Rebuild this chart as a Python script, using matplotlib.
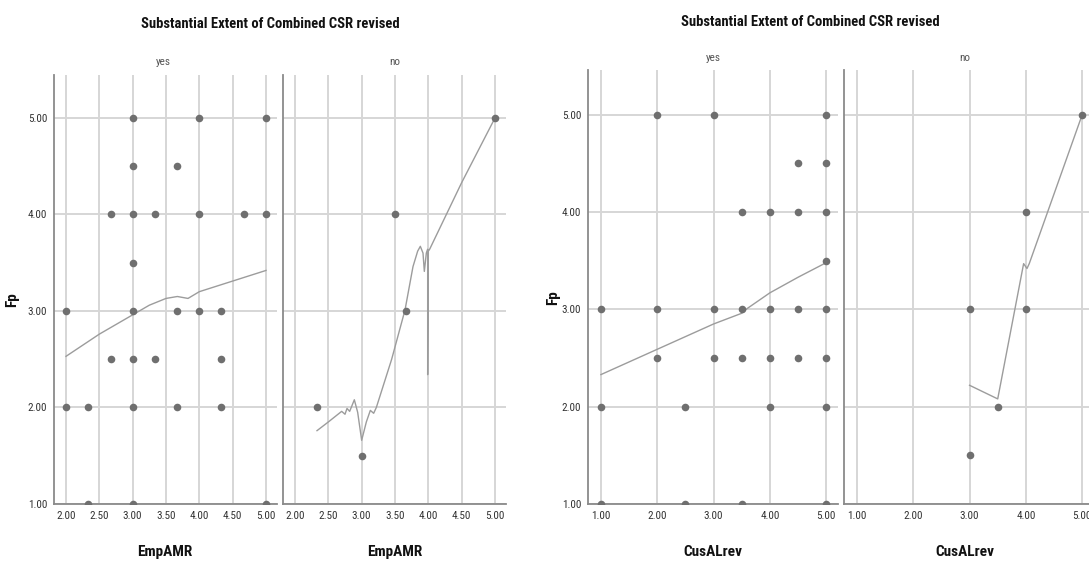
import matplotlib.pyplot as plt
import matplotlib.font_manager as fm

# a narrow sans if one is installed, plain Liberation Sans otherwise
names = {f.name for f in fm.fontManager.ttflist}
narrow = [f for f in ['Liberation Sans Narrow', 'Arial Narrow', 'Roboto Condensed',
                      'PT Sans Narrow', 'Archivo Narrow', 'Open Sans Condensed']
          if f in names]
if narrow:
    plt.rcParams['font.family'] = [narrow[0], 'Liberation Sans', 'DejaVu Sans']
    fs_title, fs_lab, fs_tick, fs_strip = 10.5, 11, 8, 8
else:
    plt.rcParams['font.family'] = ['Liberation Sans', 'DejaVu Sans']
    fs_title, fs_lab, fs_tick, fs_strip = 9.3, 9.5, 7, 7.5

W, H = 1089, 569

##########
# Datos  #
##########
title = 'Substantial Extent of Combined CSR revised'
panels = ['yes', 'no']

# EmpAMR vs Fp
emp_yes_x = [3.00, 4.00, 5.00, 3.00, 3.67, 2.67, 3.00, 3.33, 4.00, 4.67, 5.00, 3.00,
             2.00, 3.00, 3.67, 4.00, 4.33, 2.67, 3.00, 3.33, 4.33,
             2.00, 2.33, 3.00, 3.67, 4.33, 2.33, 3.00, 5.00]
emp_yes_y = [5.00, 5.00, 5.00, 4.50, 4.50, 4.00, 4.00, 4.00, 4.00, 4.00, 4.00, 3.50,
             3.00, 3.00, 3.00, 3.00, 3.00, 2.50, 2.50, 2.50, 2.50,
             2.00, 2.00, 2.00, 2.00, 2.00, 1.00, 1.00, 1.00]
emp_yes_fit_x = [2.00, 2.50, 3.00, 3.25, 3.50, 3.67, 3.83, 4.00, 4.50, 5.00]
emp_yes_fit_y = [2.53, 2.76, 2.96, 3.06, 3.13, 3.15, 3.13, 3.20, 3.31, 3.42]

emp_no_x = [5.00, 3.50, 3.67, 2.33, 3.00]
emp_no_y = [5.00, 4.00, 3.00, 2.00, 1.50]
emp_no_fit_x = [2.33, 2.50, 2.70, 2.75, 2.78, 2.82, 2.89, 2.94, 3.00, 3.07, 3.13,
                3.18, 3.22, 3.45, 3.65, 3.77, 3.84, 3.88, 3.92, 3.94, 3.97,
                3.99, 3.99, 4.00, 4.02, 4.50, 5.00]
emp_no_fit_y = [1.76, 1.85, 1.96, 1.93, 1.99, 1.96, 2.08, 1.95, 1.66, 1.85, 1.97,
                1.94, 2.00, 2.50, 3.01, 3.46, 3.62, 3.67, 3.60, 3.41, 3.60,
                3.64, 2.34, 3.62, 3.64, 4.33, 5.00]

# CusALrev vs Fp
cus_yes_x = [2.0, 3.0, 5.0, 4.5, 5.0, 3.5, 4.0, 4.5, 5.0, 5.0,
             1.0, 2.0, 3.0, 3.5, 4.0, 4.5, 5.0, 2.0, 3.0, 3.5, 4.0, 4.5, 5.0,
             1.0, 2.5, 4.0, 5.0, 1.0, 2.5, 3.5, 5.0]
cus_yes_y = [5.0, 5.0, 5.0, 4.5, 4.5, 4.0, 4.0, 4.0, 4.0, 3.5,
             3.0, 3.0, 3.0, 3.0, 3.0, 3.0, 3.0, 2.5, 2.5, 2.5, 2.5, 2.5, 2.5,
             2.0, 2.0, 2.0, 2.0, 1.0, 1.0, 1.0, 1.0]
cus_yes_fit_x = [1.0, 2.0, 3.0, 3.5, 3.6, 4.0, 4.5, 5.0]
cus_yes_fit_y = [2.33, 2.59, 2.85, 2.96, 3.01, 3.17, 3.33, 3.48]

cus_no_x = [5.0, 4.0, 3.0, 4.0, 3.5, 3.0]
cus_no_y = [5.0, 4.0, 3.0, 3.0, 2.0, 1.5]
cus_no_fit_x = [3.0, 3.5, 3.96, 4.02, 4.06, 5.0]
cus_no_fit_y = [2.22, 2.08, 3.47, 3.42, 3.47, 5.0]

yticks = [1.0, 2.0, 3.0, 4.0, 5.0]
emp_xticks = [2.0, 2.5, 3.0, 3.5, 4.0, 4.5, 5.0]
cus_xticks = [1.0, 2.0, 3.0, 4.0, 5.0]

##########
# Estilo #
##########
grid_c = '#d6d6d6'
spine_c = '#8a8a8a'
dot_c = '#6f6f6f'
fit_c = '#9c9c9c'
txt_c = '#333333'

fig = plt.figure(figsize=(W / 100, H / 100), dpi=100)


def panel(x0, x1, ytop, ybot, xlim, ylim, xticks, px, py, fx, fy, show_y):
    ax = fig.add_axes([x0 / W, 1 - ybot / H, (x1 - x0) / W, (ybot - ytop) / H])
    ax.set_xlim(xlim)
    ax.set_ylim(ylim)
    ax.set_xticks(xticks)
    ax.set_yticks(yticks)
    ax.set_xticklabels(['%.2f' % t for t in xticks])
    if show_y:
        ax.set_yticklabels(['%.2f' % t for t in yticks])
    else:
        ax.set_yticklabels([])
    ax.tick_params(length=0, labelsize=fs_tick, colors=txt_c, pad=5)
    ax.grid(True, color=grid_c, lw=1.4)
    ax.set_axisbelow(True)
    for s in ['top', 'right']:
        ax.spines[s].set_visible(False)
    for s in ['left', 'bottom']:
        ax.spines[s].set_color(spine_c)
        ax.spines[s].set_linewidth(1.3)
    ax.plot(fx, fy, color=fit_c, lw=1.0, zorder=3)
    ax.scatter(px, py, s=30, color=dot_c, zorder=4, linewidths=0)
    return ax


#################
# Grafico 1     #
#################
emp_xlim = (1.82, 5.165)
ylim_l = (1.0, 5.445)
a1 = panel(54, 277, 75, 504, emp_xlim, ylim_l, emp_xticks,
           emp_yes_x, emp_yes_y, emp_yes_fit_x, emp_yes_fit_y, True)
a2 = panel(283, 506, 75, 504, emp_xlim, ylim_l, emp_xticks,
           emp_no_x, emp_no_y, emp_no_fit_x, emp_no_fit_y, False)

#################
# Grafico 2     #
#################
cus_xlim = (0.77, 5.21)
ylim_r = (1.0, 5.46)
a3 = panel(588, 838, 70, 504, cus_xlim, ylim_r, cus_xticks,
           cus_yes_x, cus_yes_y, cus_yes_fit_x, cus_yes_fit_y, True)
a4 = panel(844, 1094, 70, 504, cus_xlim, ylim_r, cus_xticks,
           cus_no_x, cus_no_y, cus_no_fit_x, cus_no_fit_y, False)

############
# Textos   #
############
def ftxt(x, y, s, **kw):
    fig.text(x / W, 1 - y / H, s, ha='center', va='center', **kw)


dark = '#111111'
ftxt(270, 24, title, fontsize=fs_title, fontweight='bold', color=dark)
ftxt(810, 22, title, fontsize=fs_title, fontweight='bold', color=dark)

# etiquetas de los paneles
for x, y, lab in [(163, 62, 'yes'), (395, 62, 'no'), (713, 58, 'yes'), (965, 58, 'no')]:
    ftxt(x, y, lab, fontsize=fs_strip, color='#555555')

ftxt(12, 300, 'Fp', rotation=90, fontsize=fs_lab, fontweight='bold', color=dark)
ftxt(553, 298, 'Fp', rotation=90, fontsize=fs_lab, fontweight='bold', color=dark)
ftxt(165, 552, 'EmpAMR', fontsize=fs_lab, fontweight='bold', color=dark)
ftxt(395, 552, 'EmpAMR', fontsize=fs_lab, fontweight='bold', color=dark)
ftxt(713, 552, 'CusALrev', fontsize=fs_lab, fontweight='bold', color=dark)
ftxt(965, 552, 'CusALrev', fontsize=fs_lab, fontweight='bold', color=dark)

fig.savefig('out.png', dpi=100)
